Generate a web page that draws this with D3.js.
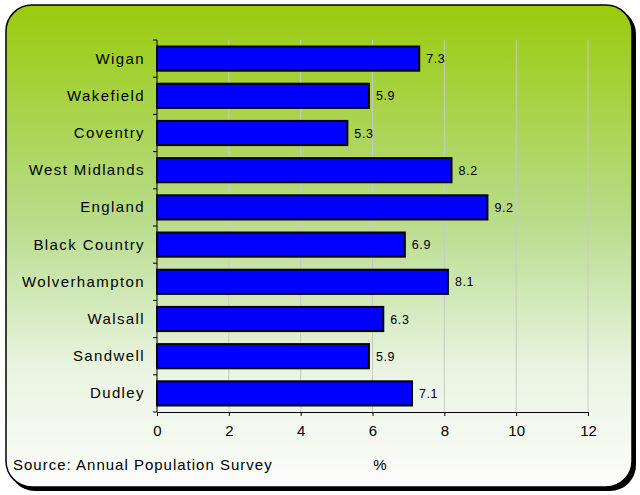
<!DOCTYPE html>
<html><head><meta charset="utf-8">
<script src="https://cdn.jsdelivr.net/npm/d3@7"></script>
<style>body{margin:0;background:#fff}svg{display:block}</style>
</head><body>
<script>
const categories = ["Wigan","Wakefield","Coventry","West Midlands","England","Black Country","Wolverhampton","Walsall","Sandwell","Dudley"];
const values = [7.3,5.9,5.3,8.2,9.2,6.9,8.1,6.3,5.9,7.1];
const xTicks = [0,2,4,6,8,10,12];

const W=640,H=495;
const FONT="Liberation Sans, Arial, sans-serif";
const svg=d3.select("body").append("svg").attr("width",W).attr("height",H);
const defs=svg.append("defs");
const g=defs.append("linearGradient").attr("id","bg").attr("x1",0).attr("y1",0).attr("x2",0).attr("y2",1);
g.append("stop").attr("offset","0%").attr("stop-color","#9acb0c");
g.append("stop").attr("offset","45%").attr("stop-color","#b8dc8c");
g.append("stop").attr("offset","75%").attr("stop-color","#e8f4e0");
g.append("stop").attr("offset","100%").attr("stop-color","#fdfdfb");

// shadow + frame
svg.append("rect").attr("x",9).attr("y",8).attr("width",627).attr("height",483).attr("rx",26).attr("fill","#000");
svg.append("rect").attr("x",6).attr("y",5).attr("width",626).attr("height",482).attr("rx",26)
  .attr("fill","url(#bg)").attr("stroke","#000").attr("stroke-width",1.5);

const x=d3.scaleLinear().domain([0,12]).range([157,588]);
const y=d3.scaleBand().domain(categories).range([40,412]).paddingInner(0.35).paddingOuter(0.175);

// gridlines
svg.append("g").selectAll("line").data(xTicks.filter(d=>d>0)).join("line")
  .attr("x1",d=>x(d)).attr("x2",d=>x(d)).attr("y1",40).attr("y2",412)
  .attr("stroke","#c8c8c8").attr("stroke-width",1);

// bars
svg.append("g").selectAll("rect").data(values).join("rect")
  .attr("x",x(0)).attr("y",(d,i)=>y(categories[i]))
  .attr("width",d=>x(d)-x(0)).attr("height",y.bandwidth())
  .attr("fill","#0000ff").attr("stroke","#000").attr("stroke-width",2);

// value labels
svg.append("g").selectAll("text").data(values).join("text")
  .attr("x",d=>x(d)+7).attr("y",(d,i)=>y(categories[i])+y.bandwidth()/2+4.5)
  .attr("font-family",FONT).attr("font-size",12.5).attr("letter-spacing",0.6).attr("fill","#000")
  .text(d=>d.toFixed(1));

// y axis
const ya=svg.append("g");
ya.append("line").attr("x1",157).attr("x2",157).attr("y1",40).attr("y2",412).attr("stroke","#000").attr("stroke-width",1);
const bounds=d3.range(categories.length+1).map(i=>40+i*(372/categories.length));
ya.selectAll("line.t").data(bounds).join("line").attr("class","t")
  .attr("x1",153).attr("x2",157).attr("y1",d=>d).attr("y2",d=>d).attr("stroke","#000");
ya.selectAll("text").data(categories).join("text")
  .attr("x",145).attr("y",d=>y(d)+y.bandwidth()/2+5).attr("text-anchor","end")
  .attr("font-family",FONT).attr("font-size",15).attr("letter-spacing",1.4).attr("fill","#000")
  .text(d=>d);

// x axis
const xa=svg.append("g").attr("transform","translate(0,412)")
  .call(d3.axisBottom(x).tickValues(xTicks).tickSize(4).tickSizeOuter(0).tickPadding(9));
xa.select(".domain").attr("stroke","#000");
xa.selectAll(".tick line").attr("stroke","#000");
xa.selectAll("text").attr("font-family",FONT).attr("font-size",15).attr("fill","#000");

svg.append("text").attr("x",13).attr("y",470).attr("font-family",FONT).attr("letter-spacing",1)
  .attr("font-size",15).text("Source: Annual Population Survey");
svg.append("text").attr("x",380).attr("y",470).attr("text-anchor","middle").attr("font-family",FONT)
  .attr("font-size",15).text("%");
</script>
</body></html>
